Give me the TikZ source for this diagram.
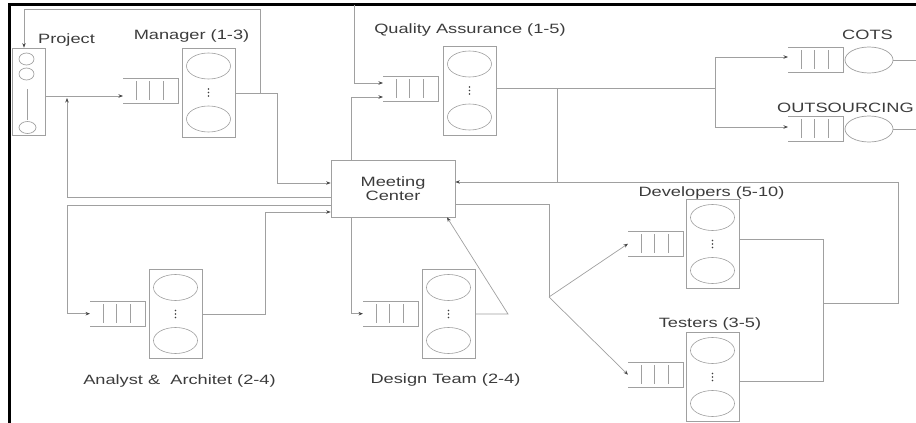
\documentclass[tikz,border=0pt]{standalone}
\usepackage{fontspec}
\setmainfont[FakeStretch=1.35]{Liberation Sans}
\usetikzlibrary{arrows.meta,shapes.geometric,calc}
\definecolor{linegray}{RGB}{160,160,160}
\definecolor{textgray}{RGB}{60,60,60}
\definecolor{tipgray}{RGB}{70,70,70}

\tikzset{
  ln/.style={draw=linegray, line width=0.7pt},
  arr/.style={ln, -{Stealth[length=4.5pt,width=3.5pt,color=tipgray]}},
  box/.style={draw=linegray, line width=0.7pt, inner sep=0pt},
  lbl/.style={text=textgray, font=\fontsize{13.5pt}{14pt}\selectfont, inner sep=0pt},
  qnode/.style={minimum width=55pt, minimum height=25pt, inner sep=0pt},
  srv/.style={draw=linegray, line width=0.7pt, ellipse, minimum width=48pt, minimum height=26pt, inner sep=0pt},
  station/.style={box, minimum width=53pt, minimum height=89pt,
    path picture={
      \draw[linegray, line width=0.6pt] ([yshift=26.5pt]path picture bounding box.center) ellipse [x radius=22pt, y radius=13pt];
      \draw[linegray, line width=0.6pt] ([yshift=-26.5pt]path picture bounding box.center) ellipse [x radius=22pt, y radius=13pt];
      \foreach \dy in {-3.5,0,3.5}
        \fill[textgray] ([yshift=\dy pt]path picture bounding box.center) circle [radius=0.9pt];
    }},
}

% waiting line: open on the left, closed on the right, three slots
\newcommand{\queuebox}[3]{%
  \node[qnode, anchor=north west] (#1) at (#2,#3) {};
  \draw[ln] (#1.north west) -- (#1.north east) -- (#1.south east) -- (#1.south west);
  \foreach \bx in {13,26,40}
    \draw[ln] ([xshift=\bx pt, yshift=-3pt]#1.north west) -- ([xshift=\bx pt, yshift=3pt]#1.south west);
}

\begin{document}
\begin{tikzpicture}[x=1pt,y=-1pt]
\useasboundingbox (0,0) rectangle (916,423);

% frame edges
\draw[black, line width=2.5pt] (9.5,424) -- (9.5,4.7) -- (917,4.7);

% project source
\node[box, minimum width=33pt, minimum height=87pt] (proj) at (28.5,91.5) {};
\draw[ln] (26.5,59) ellipse [x radius=7.5, y radius=6];
\draw[ln] (26.5,74) ellipse [x radius=7.5, y radius=6];
\draw[ln] (27,89) -- (27,120);
\draw[ln] (27.5,127.5) ellipse [x radius=8.5, y radius=6];
\node[lbl, anchor=base] (tproj) at (66.5,43) {Project};

% service stations
\node[station] (mgr) at (208.5,92.5) {};
\node[station] (qa)  at (469.5,90.5) {};
\node[station] (ana) at (175.5,314) {};
\node[station] (des) at (448.5,314) {};
\node[station] (dev) at (712.5,244) {};
\node[station] (tst) at (712.5,377) {};

\node[box, lbl, align=center, minimum width=124pt, minimum height=57pt] (mc) at (393,188.5) {Meeting\\Center};

% queues
\queuebox{mq}{123}{78}
\queuebox{qq}{383}{76}
\queuebox{cq}{788}{47}
\queuebox{oq}{788}{116}
\queuebox{aq}{90}{301}
\queuebox{dq}{363}{301}
\queuebox{vq}{628}{231}
\queuebox{tq}{628}{362}

\node[srv] (cots) at (869,60) {};
\node[srv] (outs) at (869,129) {};

% labels
\node[lbl, anchor=base] (tmgr) at (191.5,39) {Manager (1-3)};
\node[lbl, anchor=base] (tqa)  at (470,33) {Quality Assurance (1-5)};
\node[lbl, anchor=base] (tcots) at (867.5,39) {COTS};
\node[lbl, anchor=base east] (touts) at (914,112) {OUTSOURCING};
\node[lbl, anchor=base] (tana) at (179.5,384) {Analyst \&~ Architet (2-4)};
\node[lbl, anchor=base] (tdes) at (445.5,383) {Design Team (2-4)};
\node[lbl, anchor=base] (tdev) at (711.5,196) {Developers (5-10)};
\node[lbl, anchor=base] (ttst) at (710,327) {Testers (3-5)};

% project feeds the manager
\draw[arr] (proj.east |- 0,96) -- (mq.west |- 0,96);
% meeting center back to project
\draw[arr] (mc.west |- 0,197) -- (67,197) -- (67,98);
% manager output: to the meeting center and back to the project
\draw[arr] (mgr.east |- 0,93) -- (277,93) -- (277,183) -- (mc.west |- 0,183);
\draw[arr] (260,93) -- (260,9) -- (24,9) -- (proj.north west -| 24,0);
% meeting center <-> analysts
\draw[arr] (mc.west |- 0,205) -- (67,205) |- (aq.west);
\draw[arr] (ana.east) -| (265,212) -- (mc.west |- 0,212);
% meeting center <-> design team
\draw[arr] (mc.south -| 351,0) |- (dq.west);
\draw[arr] (des.east) -- (508,314) -- (mc.south -| 447,0);
% into quality assurance
\draw[arr] (mc.north -| 351,0) |- (qq.west |- 0,97);
\draw[arr] (354,5) |- (qq.west |- 0,83);
% quality assurance output
\draw[ln] (qa.east |- 0,88) -- (715,88);
\draw[arr] (715,88) |- (cq.west |- 0,57);
\draw[arr] (715,88) |- (oq.west |- 0,127);
\draw[ln] (cots.east) -- (920,60);
\draw[ln] (outs.east) -- (920,129);
\draw[ln] (557,88) -- (557,182);
% meeting center to developers and testers
\draw[ln] (mc.east |- 0,204) -| (549,297);
\draw[arr] (549,297) -- (vq.west);
\draw[arr] (549,297) -- (tq.west);
% developers and testers back to the meeting center
\draw[ln] (dev.east |- 0,239) -| (823,381) -- (tst.east |- 0,381);
\draw[arr] (823,303) -| (898,182) -- (mc.east |- 0,182);
\end{tikzpicture}
\end{document}
